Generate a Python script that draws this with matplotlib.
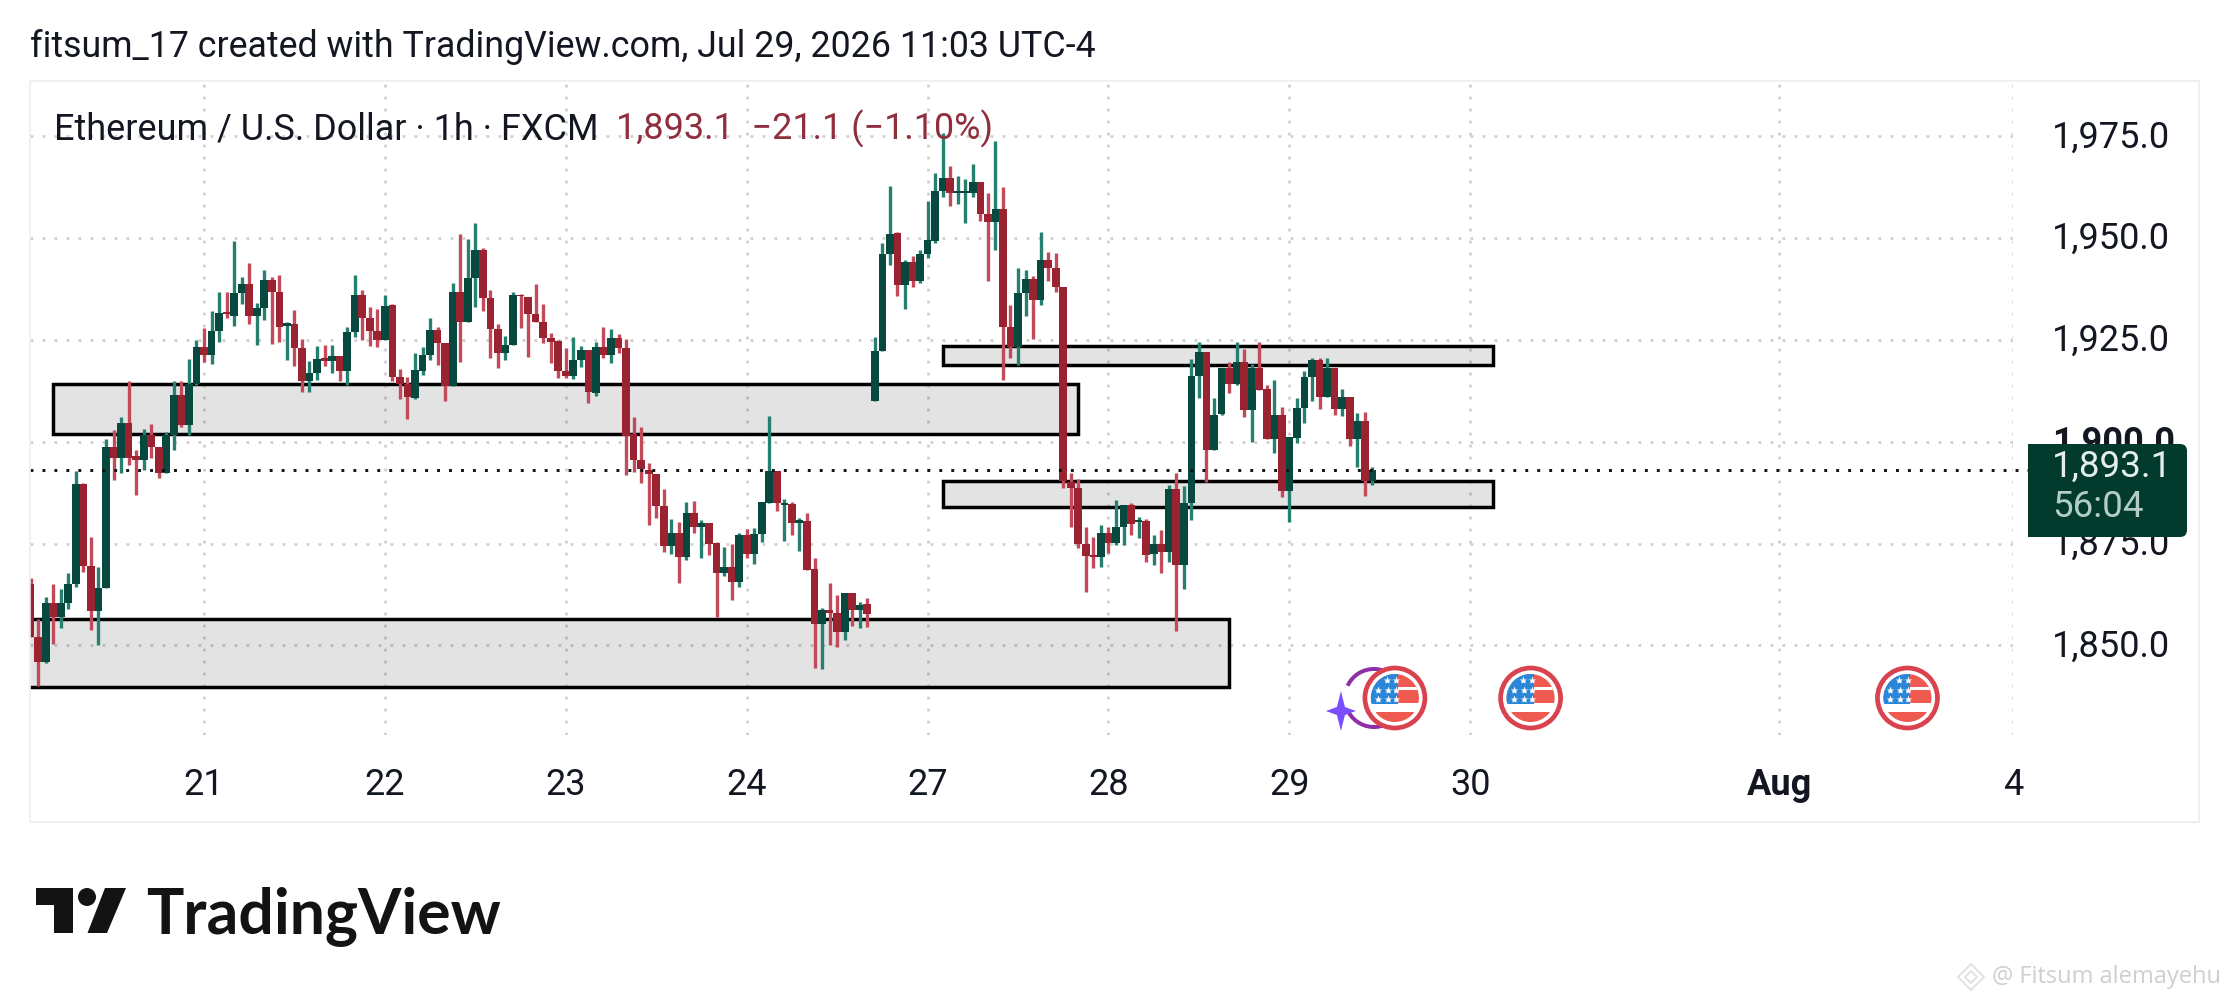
import matplotlib
matplotlib.use("Agg")
import numpy as np
import matplotlib.pyplot as plt
from matplotlib.patches import Circle, Polygon, Rectangle, Wedge, FancyBboxPatch
from matplotlib.transforms import ScaledTranslation

# hourly candles, index 0 is the first bar on the left
opens = [
    1865.2, 1852, 1846, 1860.3, 1857, 1860.3, 1865.2, 1889.6, 1869.6, 1858.5,
    1864.2, 1898.8, 1895.9, 1904.5, 1896.4, 1895.5, 1901.7, 1898.8, 1892.4, 1901.7,
    1911.5, 1904.1, 1914.1, 1923.4, 1921.3, 1927.1, 1931.8, 1931, 1936.5, 1938.8,
    1930.8, 1932.8, 1939.8, 1936.9, 1928.5, 1928.9, 1923.1, 1914.9, 1916.8, 1920.5,
    1919.9, 1921.1, 1917.4, 1926.9, 1936.1, 1930.3, 1927.2, 1925, 1933.5, 1916,
    1914.1, 1910.7, 1917.4, 1921.3, 1927.5, 1924.2, 1913.7, 1936.7, 1929.5, 1940.2,
    1947.1, 1935.2, 1927.6, 1921.7, 1923.8, 1936.1, 1935.5, 1931.5, 1929.5, 1925.6,
    1924.8, 1917.4, 1916.2, 1920, 1922.5, 1911.9, 1923.4, 1921.2, 1925.4, 1923,
    1901.8, 1895.5, 1893.1, 1892, 1884.3, 1874.5, 1877.7, 1871.8, 1882.4, 1879.2,
    1880, 1875.1, 1867.7, 1869.3, 1865.6, 1877.1, 1872.4, 1877.3, 1884.9, 1892.8,
    1884.5, 1884.7, 1880.1, 1880.5, 1868.7, 1855.2, 1858.8, 1858, 1853.4, 1862.8,
    1858.7, 1860.1, 1909.9, 1922.2, 1946.2, 1951.2, 1938.4, 1944.1, 1939.5, 1946.1,
    1949.4, 1961.7, 1964.7, 1961.2, 1961.1, 1961.2, 1963.8, 1955.9, 1953.9, 1957.1,
    1928.1, 1923.2, 1936.5, 1939.9, 1934.8, 1944.7, 1942.8, 1937.9, 1890.2, 1888.6,
    1875, 1872.2, 1871.8, 1877.5, 1875.2, 1879.2, 1884.5, 1880.3, 1880.6, 1872.4,
    1875, 1872.9, 1888.4, 1869.7, 1884.9, 1916.2, 1922, 1897.9, 1906.8, 1918.1,
    1914.1, 1919.7, 1907.7, 1918.1, 1912.9, 1900.8, 1906.6, 1887.9, 1901, 1908.2,
    1915.9, 1920.1, 1910.9, 1918.1, 1908, 1910.9, 1900.8, 1905, 1890.4,
]
closes = [
    1852, 1846, 1860.3, 1857, 1860.3, 1865.2, 1889.6, 1869.6, 1858.5, 1864.2,
    1898.8, 1895.9, 1904.5, 1895.9, 1895.5, 1901.7, 1898.8, 1892.4, 1901.7, 1911.5,
    1904.1, 1914.1, 1923.4, 1921.3, 1927.1, 1931.6, 1931.3, 1936.5, 1938.8, 1930.8,
    1932.8, 1939.8, 1936.9, 1928.3, 1929.1, 1923.1, 1914.9, 1916.8, 1920.3, 1919.9,
    1921.1, 1917.4, 1926.9, 1936.1, 1930.3, 1927.2, 1925, 1933.4, 1916, 1914.1,
    1910.9, 1917.6, 1921.3, 1927.5, 1924.2, 1913.7, 1936.7, 1929.5, 1940.2, 1947.1,
    1935.2, 1927.6, 1921.7, 1923.8, 1936.1, 1935.7, 1931.5, 1929.5, 1925.6, 1924.4,
    1917.4, 1916.2, 1920.1, 1922.5, 1912.2, 1923.4, 1921.2, 1925.4, 1923, 1901.4,
    1895.5, 1893.2, 1892, 1884.3, 1874.5, 1877.7, 1871.8, 1882.4, 1879.2, 1880,
    1874.9, 1867.7, 1869.3, 1865.6, 1877.1, 1872.4, 1877.3, 1885.1, 1892.8, 1884.9,
    1884.9, 1880.1, 1880.8, 1868.5, 1855.2, 1858.7, 1857.9, 1853.4, 1862.8, 1858.7,
    1859.9, 1857.7, 1922.2, 1946.2, 1951, 1938.4, 1944.1, 1939.5, 1946.1, 1949.6,
    1961.7, 1964.7, 1961.2, 1961.7, 1961.6, 1963.8, 1955.9, 1953.9, 1957.1, 1928.1,
    1923.2, 1936.5, 1939.9, 1934.8, 1944.7, 1942.8, 1937.9, 1890.4, 1888.6, 1875,
    1872, 1871.8, 1877.5, 1875.2, 1879.2, 1884.6, 1879.8, 1880.8, 1872.2, 1875,
    1872.9, 1888.4, 1869.7, 1884.9, 1916.2, 1922, 1897.9, 1906.6, 1918.1, 1914.1,
    1919.7, 1907.7, 1918.1, 1912.7, 1900.8, 1906.6, 1887.9, 1901.3, 1908.2, 1915.9,
    1920.1, 1910.9, 1918.1, 1908, 1910.9, 1900.8, 1905, 1890.4, 1893.1,
]
highs = [
    1866.5, 1856.6, 1861.8, 1865, 1863.8, 1867.7, 1892.9, 1890, 1876.7, 1869.3,
    1900.8, 1902.9, 1906.2, 1915, 1898, 1903.2, 1904.4, 1898.8, 1902.3, 1915,
    1915, 1920.3, 1924.9, 1927.9, 1932, 1936.7, 1936.7, 1949.4, 1940.4, 1943.9,
    1934, 1942.2, 1940.4, 1941, 1929.3, 1932.4, 1925.2, 1919.9, 1923.5, 1923.8,
    1923.8, 1921.1, 1928.3, 1941, 1937.3, 1933.2, 1932.5, 1936.1, 1933.9, 1917.8,
    1915.8, 1921.7, 1923.2, 1930.3, 1928.1, 1924.2, 1938.9, 1951.1, 1949.8, 1953.7,
    1947.5, 1937.3, 1929, 1926.1, 1936.7, 1936.2, 1935.5, 1938.7, 1933.8, 1926.7,
    1924.9, 1923, 1925.7, 1923.6, 1922.5, 1924.4, 1928.3, 1927.6, 1926.4, 1925.2,
    1906, 1903.7, 1894.7, 1892, 1888.3, 1881, 1880.3, 1885.1, 1885.5, 1880.9,
    1880.1, 1875.5, 1874.1, 1874.9, 1877.5, 1878.5, 1878.8, 1885.1, 1906.3, 1892.8,
    1885.9, 1885.3, 1881.4, 1882.4, 1871.4, 1859.3, 1865.4, 1862.5, 1862.9, 1862.9,
    1860.7, 1861.6, 1925.8, 1948.9, 1962.9, 1951.4, 1944.7, 1945.7, 1947.1, 1959.2,
    1966, 1975.8, 1967.8, 1965.3, 1964.5, 1968.2, 1963.8, 1961.1, 1973.9, 1962.5,
    1933.6, 1942.6, 1942.2, 1940.7, 1951.5, 1946.6, 1946.3, 1937.9, 1892.3, 1890.8,
    1879, 1876.5, 1879.6, 1879.2, 1885.7, 1884.6, 1884.9, 1881.6, 1881, 1877.1,
    1878.3, 1889.4, 1892.3, 1889.2, 1920.4, 1924.6, 1922, 1910.7, 1918.1, 1919.7,
    1924.6, 1922.7, 1919, 1924.4, 1913.9, 1915.2, 1908.5, 1901.3, 1910.7, 1917.4,
    1920.5, 1920.7, 1920.5, 1918.1, 1913, 1910.9, 1907, 1907.2, 1893.9,
]
lows = [
    1852, 1840, 1845.6, 1850.3, 1854.3, 1859, 1864.4, 1868.1, 1853.8, 1850,
    1864.2, 1890.6, 1892.3, 1894.3, 1887, 1893.1, 1895.9, 1891, 1892.3, 1898,
    1903.7, 1901.7, 1914, 1919.5, 1919, 1924.6, 1930.3, 1928.5, 1933.9, 1929,
    1923.8, 1929.8, 1924, 1924.6, 1920.1, 1918.6, 1912.3, 1912.3, 1915.2, 1918.5,
    1916.8, 1914.9, 1914, 1925.8, 1924.9, 1923.6, 1923.4, 1924.9, 1914.9, 1910.4,
    1905.7, 1910.5, 1916.3, 1920, 1918.9, 1910.1, 1913.7, 1919.7, 1929.5, 1933.2,
    1932.2, 1920.5, 1918.1, 1920, 1923.8, 1928, 1920.9, 1929.5, 1924.2, 1919.3,
    1915.6, 1915.6, 1915.4, 1918.3, 1909.5, 1911.3, 1920.5, 1919.3, 1921.9, 1891.9,
    1892.7, 1889.8, 1879.6, 1881.2, 1873, 1872.4, 1865.4, 1871, 1877.5, 1871.4,
    1872.2, 1856.9, 1867, 1861.1, 1864.4, 1871.4, 1870.1, 1875.5, 1884.9, 1883.1,
    1875.7, 1877, 1873.3, 1868.5, 1844.4, 1844.1, 1850.2, 1849.7, 1851.3, 1854.8,
    1854.3, 1854.6, 1909.9, 1922.2, 1943.4, 1935.9, 1932.6, 1938.1, 1938.9, 1945.1,
    1948.8, 1960.1, 1957.8, 1958.4, 1953.7, 1960.1, 1954.1, 1939.4, 1947, 1915.2,
    1920.7, 1918.9, 1931, 1925.3, 1933.6, 1939.5, 1936.9, 1888.6, 1879, 1874,
    1863.2, 1869, 1869.3, 1872.8, 1874.7, 1874.7, 1877.1, 1876.3, 1870.6, 1869.8,
    1867.9, 1870.6, 1853.6, 1863.8, 1880.8, 1910.7, 1890.2, 1897.9, 1906.6, 1912.1,
    1914, 1906, 1900, 1912.7, 1900.8, 1897.2, 1886.5, 1880.2, 1899.6, 1904.7,
    1909.9, 1908, 1910.9, 1906.6, 1906.4, 1899, 1893.7, 1886.8, 1889.4,
]

# hand drawn zones: start bar, end bar, lower price, upper price
zone_start = [-1, 3, 121, 121]
zone_end = [159, 139, 194, 194]
zone_low = [1839.7, 1901.8, 1918.9, 1883.9]
zone_high = [1856.6, 1914.1, 1923.5, 1890.4]

price_ticks = [1975, 1950, 1925, 1900, 1875, 1850]
time_ticks = [23, 47, 71, 95, 119, 143, 167, 191, 232, 263]
time_labels = ["21", "22", "23", "24", "27", "28", "29", "30", "Aug", "4"]
event_bars = [181, 199, 249]

last_price = 1893.1
W, H = 2229, 1002
UP_BODY, UP_WICK = "#08493f", "#26806f"
DOWN_BODY, DOWN_WICK = "#9a2331", "#c24a5a"

plt.rcParams["font.family"] = ["Roboto", "DejaVu Sans"]

fig = plt.figure(figsize=(W / 100, H / 100), dpi=100, facecolor="white")
pane_l, pane_r, pane_t, pane_b = 30, 2013, 81, 735
ax = fig.add_axes([pane_l / W, 1 - pane_b / H, (pane_r - pane_l) / W, (pane_b - pane_t) / H])
ax.set_xlim(-0.08, 263)
ax.set_ylim(1828, 1988.6)

ax.set_xticks(time_ticks)
ax.set_xticklabels(time_labels)
ax.set_yticks(price_ticks)
ax.set_yticklabels([f"{p:,.1f}" for p in price_ticks])
ax.yaxis.tick_right()
ax.tick_params(axis="both", length=0, labelsize=26, labelcolor="#131722")
ax.tick_params(axis="x", pad=23)
ax.tick_params(axis="y", pad=28)
ax.get_yticklabels()[3].set_fontweight("bold")
ax.get_xticklabels()[8].set_fontweight("bold")
# the price labels sit a little above their grid lines
lift = ScaledTranslation(0, 3 / 100, fig.dpi_scale_trans)
for tick in ax.yaxis.get_major_ticks():
    tick.label2.set_transform(tick.label2.get_transform() + lift)
for spine in ax.spines.values():
    spine.set_visible(False)
ax.grid(True, color="#cfcfcf", linewidth=2.0, linestyle=(0, (1, 3.32)))
ax.set_axisbelow(True)

for i in range(len(zone_start)):
    ax.add_patch(Rectangle((zone_start[i], zone_low[i]), zone_end[i] - zone_start[i],
                           zone_high[i] - zone_low[i], facecolor=(0, 0, 0, 0.11),
                           edgecolor="none", zorder=1.5))
    ax.add_patch(Rectangle((zone_start[i], zone_low[i]), zone_end[i] - zone_start[i],
                           zone_high[i] - zone_low[i], fill=False,
                           edgecolor="black", linewidth=2.5, zorder=1.6))

# candles
bars = np.arange(len(opens))
o, c, hi, lo = map(np.array, (opens, closes, highs, lows))
up = c >= o
ax.vlines(bars[up], lo[up], hi[up], color=UP_WICK, linewidth=2.4, zorder=2)
ax.vlines(bars[~up], lo[~up], hi[~up], color=DOWN_WICK, linewidth=2.4, zorder=2)
body_h = np.maximum(np.abs(c - o), 0.4)
ax.bar(bars[up], body_h[up], bottom=np.minimum(o, c)[up], width=1.02, color=UP_BODY, zorder=3)
ax.bar(bars[~up], body_h[~up], bottom=np.minimum(o, c)[~up], width=1.02, color=DOWN_BODY, zorder=3)

# last price line runs just past the pane up to the label
ax.axhline(last_price, xmax=(2028 - pane_l) / (pane_r - pane_l), color="#111111",
           linewidth=2.1, linestyle=(0, (1, 3.1)), clip_on=False, zorder=4)

# everything else is laid out in pixels on a full figure overlay
fig.canvas.draw()
ov = fig.add_axes([0, 0, 1, 1], zorder=5)
ov.set_xlim(0, W)
ov.set_ylim(H, 0)
ov.axis("off")
ov.patch.set_alpha(0)

ov.add_patch(Rectangle((30, 81), 2169, 741, fill=False, edgecolor="#eeeeee", linewidth=1.2))

ov.text(30, 47, "fitsum_17 created with TradingView.com, Jul 29, 2026 11:03 UTC-4",
        fontsize=25.75, color="#131722", va="center", ha="left")
ov.text(54, 129, "Ethereum / U.S. Dollar · 1h · FXCM", fontsize=25.9, color="#131722", va="center")
ov.text(616, 129, "1,893.1  −21.1 (−1.10%)", fontsize=25.9, color="#8f2e3c", va="center")

# price label, square on the left and rounded on the right
ov.add_patch(FancyBboxPatch((2040, 444), 147, 93, boxstyle="round,pad=0,rounding_size=7",
                            facecolor="#033a2e", edgecolor="none"))
ov.add_patch(Rectangle((2028, 444), 30, 93, facecolor="#033a2e", edgecolor="none"))
ov.text(2052, 467, f"{last_price:,.1f}", fontsize=26.5, color="#e4efec", va="center")
ov.text(2052, 507, "56:04", fontsize=26.5, color="#b3cdc6", va="center")


def draw_flag(cx, cy):
    clip = Circle((cx, cy), 24, transform=ov.transData)
    ov.add_patch(Circle((cx, cy), 30, facecolor="white", edgecolor="#d9434f", linewidth=3.4, zorder=3))
    stripes = [(-25, -10, "#ee5a50"), (-10, 5, "#ee5a50"), (14, 25, "#ee5a50")]
    for top, bot, col in stripes:
        r = Rectangle((cx - 25, cy + top), 50, bot - top, facecolor=col, edgecolor="none", zorder=4)
        r.set_clip_path(clip)
        ov.add_patch(r)
    gap = Rectangle((cx - 25, cy - 11), 50, 2.5, facecolor="white", edgecolor="none", zorder=4.5)
    gap.set_clip_path(clip)
    ov.add_patch(gap)
    canton = Rectangle((cx - 25, cy - 25), 28, 31, facecolor="#2a86d8", edgecolor="none", zorder=5)
    canton.set_clip_path(clip)
    ov.add_patch(canton)
    for row, dy in enumerate((-18, -8, 1)):
        for dx in (-15, -5, 3) if row else (-6, 3):
            ov.plot(cx + dx - 2, cy + dy, marker="*", markersize=6, color="white",
                    markeredgecolor="none", zorder=6)


flag_x = ax.transData.transform([(b, 1850) for b in event_bars])[:, 0]

# purple earnings mark behind the first flag
ov.add_patch(Wedge((flag_x[0] - 21, 698), 31, 20, 150, width=4, facecolor="#8e2fa8", edgecolor="none", zorder=2))
ov.add_patch(Wedge((flag_x[0] - 21, 698), 31, 205, 340, width=4, facecolor="#8e2fa8", edgecolor="none", zorder=2))
sx, sy = flag_x[0] - 54, 711
ov.add_patch(Polygon([(sx, sy - 20), (sx + 4, sy - 4), (sx + 15, sy), (sx + 4, sy + 4),
                      (sx, sy + 20), (sx - 4, sy + 4), (sx - 15, sy), (sx - 4, sy - 4)],
                     closed=True, facecolor="#7a4dff", edgecolor="none", zorder=7))
for x in flag_x:
    draw_flag(x, 698)

# TradingView logo
logo = "#131313"
ov.add_patch(Polygon([(36, 888), (72.5, 888), (72.5, 933), (53.6, 933), (53.6, 905), (36, 905)],
                     closed=True, facecolor=logo, edgecolor="none"))
ov.add_patch(Circle((87, 897), 9, facecolor=logo, edgecolor="none"))
ov.add_patch(Polygon([(105, 888), (126, 888), (107, 933), (87.5, 933)], closed=True,
                     facecolor=logo, edgecolor="none"))
ov.text(146, 933, "TradingView", fontsize=45, fontfamily=["Lato", "DejaVu Sans"], fontweight="bold",
        color=logo, va="baseline", ha="left")

# watermark
ov.text(1992, 977, "@ Fitsum alemayehu", fontsize=17, fontfamily=["Open Sans", "DejaVu Sans"],
        color="#cfcfcf", va="center", ha="left")
for size, lw in ((13, 1.2), (6, 1.2)):
    ov.add_patch(Polygon([(1971, 977 - size), (1971 + size, 977), (1971, 977 + size), (1971 - size, 977)],
                         closed=True, fill=False, edgecolor="#dddddd", linewidth=lw))

fig.savefig("out.png", dpi=100)
